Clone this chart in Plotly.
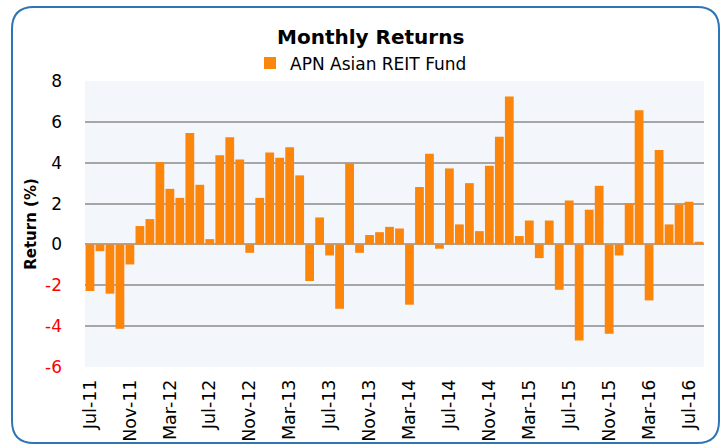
import plotly.graph_objects as go

months = ["Jul-11","Aug-11","Sep-11","Oct-11","Nov-11","Dec-11",
          "Jan-12","Feb-12","Mar-12","Apr-12","May-12","Jun-12","Jul-12","Aug-12","Sep-12","Oct-12","Nov-12","Dec-12",
          "Jan-13","Feb-13","Mar-13","Apr-13","May-13","Jun-13","Jul-13","Aug-13","Sep-13","Oct-13","Nov-13","Dec-13",
          "Jan-14","Feb-14","Mar-14","Apr-14","May-14","Jun-14","Jul-14","Aug-14","Sep-14","Oct-14","Nov-14","Dec-14",
          "Jan-15","Feb-15","Mar-15","Apr-15","May-15","Jun-15","Jul-15","Aug-15","Sep-15","Oct-15","Nov-15","Dec-15",
          "Jan-16","Feb-16","Mar-16","Apr-16","May-16","Jun-16","Jul-16","Aug-16"]

returns = [-2.28, -0.33, -2.41, -4.13, -0.98, 0.90,
           1.24, 4.03, 2.72, 2.28, 5.46, 2.92, 0.26, 4.36, 5.25, 4.16, -0.41, 2.28,
           4.50, 4.24, 4.76, 3.38, -1.79, 1.32, -0.54, -3.15, 3.96, -0.41, 0.46, 0.60,
           0.86, 0.78, -2.95, 2.81, 4.44, -0.21, 3.72, 0.98, 3.00, 0.65, 3.85, 5.27,
           7.24, 0.41, 1.17, -0.67, 1.17, -2.22, 2.15, -4.70, 1.70, 2.87, -4.37, -0.54,
           2.02, 6.57, -2.74, 4.62, 0.98, 1.96, 2.09, 0.13]

label_months = months[::4]
y_ticks = [-6, -4, -2, 0, 2, 4, 6, 8]
series_name = "APN Asian REIT Fund"

FONT = "DejaVu Sans"
ORANGE = "#FC850C"
GRID = "#A6A6A6"

W, H = 724, 444
L, R, T, B = 85, 20, 81, 77
pw, ph = W - L - R, H - T - B

def px(x):
    return (x - L) / pw

def py(y):
    return (H - B - y) / ph

fig = go.Figure()
fig.add_trace(go.Bar(x=months, y=returns, name=series_name,
                     marker=dict(color=ORANGE, line=dict(width=0)),
                     showlegend=True))

y_text = [f'<span style="color:#FF0000">{v}</span>' if v < 0 else str(v) for v in y_ticks]

# rounded border
x0, x1, y0, y1, r = 12, 719, 7, 443, 22
path = (f"M{px(x0)},{py(y0 + r)} Q{px(x0)},{py(y0)} {px(x0 + r)},{py(y0)} "
        f"L{px(x1 - r)},{py(y0)} Q{px(x1)},{py(y0)} {px(x1)},{py(y0 + r)} "
        f"L{px(x1)},{py(y1 - r)} Q{px(x1)},{py(y1)} {px(x1 - r)},{py(y1)} "
        f"L{px(x0 + r)},{py(y1)} Q{px(x0)},{py(y1)} {px(x0)},{py(y1 - r)} Z")

n = len(months)
boundaries = [i - 0.5 for i in range(0, n, 4)]

fig.update_layout(
    width=W, height=H,
    margin=dict(l=L, r=R, t=T, b=B, autoexpand=False),
    paper_bgcolor="white",
    plot_bgcolor="#F3F6FB",
    bargap=0.12,
    font=dict(family=FONT, color="black"),
    title=dict(text="<b>Monthly Returns</b>", font=dict(family=FONT, size=20, color="black"),
               x=0.512, xref="container", xanchor="center",
               y=1 - 37 / H, yref="container", yanchor="middle"),
    legend=dict(orientation="h", x=px(250), y=py(63.5), xanchor="left", yanchor="middle",
                font=dict(family=FONT, size=17, color="black"), bgcolor="rgba(0,0,0,0)",
                itemwidth=30),
    xaxis=dict(type="category", range=[-0.5, n - 0.5], tickmode="array",
               tickvals=label_months, ticktext=label_months, tickangle=-90,
               ticks="", showgrid=False, showline=False, zeroline=False,
               tickfont=dict(family=FONT, size=17.5, color="black"),
               ticklabelstandoff=8),
    xaxis2=dict(overlaying="x", anchor="free", position=6 / 14, range=[-0.5, n - 0.5],
                tickmode="array", tickvals=boundaries, ticks="outside", ticklen=6,
                tickwidth=1.5, tickcolor=GRID, showticklabels=False, showgrid=False,
                showline=False, zeroline=False),
    yaxis=dict(range=[-6, 8], tickmode="array", tickvals=y_ticks, ticktext=y_text,
               showgrid=True, gridcolor=GRID, gridwidth=1.5,
               zeroline=True, zerolinecolor=GRID, zerolinewidth=2,
               ticks="", ticklabelstandoff=22,
               tickfont=dict(family=FONT, size=17, color="black"),
               title=dict(text="<b>Return (%)</b>", font=dict(family=FONT, size=15, color="black"),
                          standoff=4)),
    shapes=[dict(type="path", path=path, xref="paper", yref="paper",
                 line=dict(color="#2E75B6", width=2), fillcolor="rgba(0,0,0,0)", layer="above")],
)

fig.write_html("out.html", config={"displayModeBar": False},
               post_script="document.body.style.margin='0';document.body.style.overflow='hidden';")
